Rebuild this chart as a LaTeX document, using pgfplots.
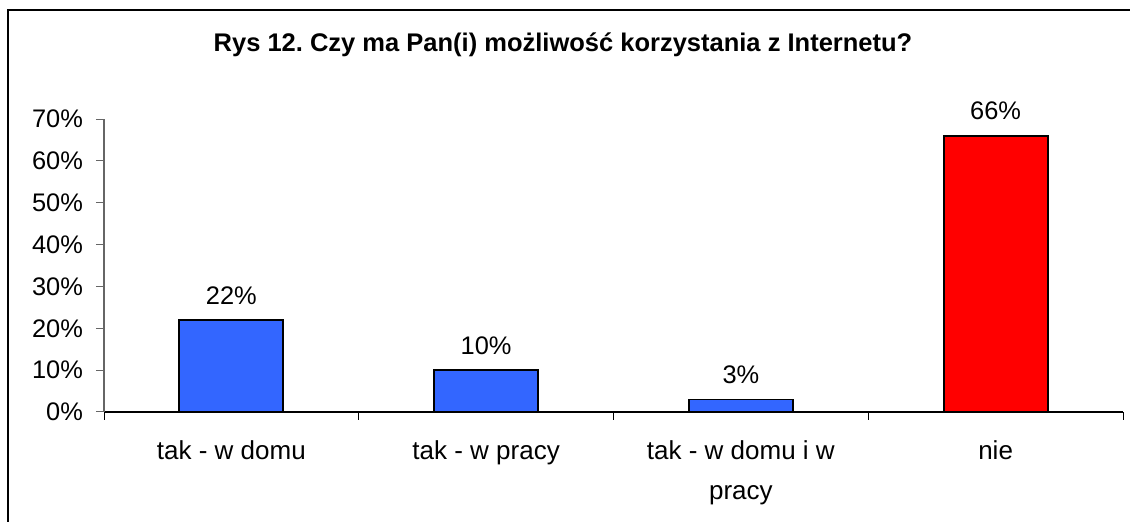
\documentclass[border=0pt]{standalone}
\usepackage{pgfplots}
\pgfplotsset{compat=1.18}
\usepackage{fontspec}
\setmainfont{Liberation Sans}
\definecolor{barblue}{HTML}{3366FF}
\definecolor{barred}{HTML}{FF0000}
\frenchspacing
\begin{document}
\begin{tikzpicture}[x=1pt,y=1pt]
\path[use as bounding box] (0,0) rectangle (565,261);
\draw[line width=1pt] (4,0) -- (4,256) -- (565,256);
\node[font=\bfseries\fontsize{12.75}{14}\selectfont] at (281.5,238.5) {Rys 12. Czy ma Pan(i) możliwość korzystania z Internetu?};
\begin{axis}[
  at={(52pt,55pt)}, anchor=south west,
  scale only axis, width=509.5pt, height=146.5pt,
  xmin=-0.5, xmax=3.5, ymin=0, ymax=70,
  axis x line*=bottom, axis y line*=left,
  /pgf/number format/assume math mode=true,
  ytick={0,10,...,70},
  yticklabel={\pgfmathprintnumber{\tick}\%},
  xtick={0,1,2,3},
  xticklabels={tak - w domu, tak - w pracy, {tak - w domu i w\\pracy}, nie},
  minor xtick={-0.5,0.5,1.5,2.5,3.5},
  major x tick style={draw=none},
  minor x tick style={black, line width=0.5pt},
  tick align=outside,
  major tick length=4pt, minor tick length=4pt,
  y tick style={black!60, line width=0.5pt},
  x axis line style={black, line width=0.6pt},
  y axis line style={black!60, line width=0.6pt},
  yticklabel style={font=\fontsize{12.7}{14}\selectfont, xshift=-3pt},
  xticklabel style={align=center, font=\fontsize{13}{20}\selectfont, yshift=-7pt},
  ybar, bar width=52pt, bar shift=0pt,
  nodes near coords={\pgfmathprintnumber{\pgfplotspointmeta}\%},
  every node near coord/.append style={font=\fontsize{12.7}{14}\selectfont, yshift=4pt},
  clip=false,
]
\addplot[fill=barblue, draw=black, line width=0.9pt] coordinates {(0,22) (1,10) (2,3)};
\addplot[fill=barred, draw=black, line width=0.9pt] coordinates {(3,66)};
\end{axis}
\end{tikzpicture}
\end{document}
